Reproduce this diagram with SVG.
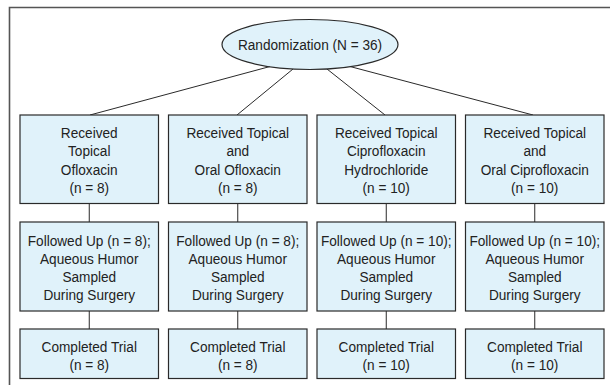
<svg xmlns="http://www.w3.org/2000/svg" width="610" height="385" viewBox="0 0 610 385">
<style>
.box{fill:#e0f2fa;stroke:#2a2a2a;stroke-width:1.2}
.t{font-family:"Liberation Sans",Arial,sans-serif;font-size:15.5px;fill:#222;text-anchor:middle}
.c{stroke:#2a2a2a;stroke-width:1;fill:none}
.frame{stroke:#555;stroke-width:1.6;fill:none}
</style>
<rect width="610" height="385" fill="#fff"/>
<path class="frame" d="M9.5,385 V7.5 H610"/>
<g id="connectors">
<line class="c" x1="270" y1="66.5" x2="90" y2="115"/>
<line class="c" x1="293" y1="69" x2="237" y2="115"/>
<line class="c" x1="327" y1="69" x2="385" y2="115"/>
<line class="c" x1="350" y1="66.5" x2="533" y2="115"/>
<line class="c" x1="89.25" y1="203.5" x2="89.25" y2="222"/>
<line class="c" x1="237.75" y1="203.5" x2="237.75" y2="222"/>
<line class="c" x1="386.25" y1="203.5" x2="386.25" y2="222"/>
<line class="c" x1="534.75" y1="203.5" x2="534.75" y2="222"/>
<line class="c" x1="89.25" y1="311" x2="89.25" y2="329"/>
<line class="c" x1="237.75" y1="311" x2="237.75" y2="329"/>
<line class="c" x1="386.25" y1="311" x2="386.25" y2="329"/>
<line class="c" x1="534.75" y1="311" x2="534.75" y2="329"/>
</g>
<g id="randomization">
<ellipse class="box" cx="310" cy="44.5" rx="88" ry="25"/>
<text class="t" transform="translate(310,0) scale(0.88,1)"><tspan x="0" y="50">Randomization (N = 36)</tspan></text>
</g>
<g id="arm1">
<rect class="box" x="20" y="115" width="138.5" height="88.5"/>
<text class="t" transform="translate(89.25,0) scale(0.88,1)"><tspan x="0" y="138.3">Received</tspan><tspan x="0" y="156.5">Topical</tspan><tspan x="0" y="174.7">Ofloxacin</tspan><tspan x="0" y="192.9">(n = 8)</tspan></text>
</g>
<g id="arm2">
<rect class="box" x="168.5" y="115" width="138.5" height="88.5"/>
<text class="t" transform="translate(237.75,0) scale(0.88,1)"><tspan x="0" y="138.3">Received Topical</tspan><tspan x="0" y="156.5">and</tspan><tspan x="0" y="174.7">Oral Ofloxacin</tspan><tspan x="0" y="192.9">(n = 8)</tspan></text>
</g>
<g id="arm3">
<rect class="box" x="317" y="115" width="138.5" height="88.5"/>
<text class="t" transform="translate(386.25,0) scale(0.88,1)"><tspan x="0" y="138.3">Received Topical</tspan><tspan x="0" y="156.5">Ciprofloxacin</tspan><tspan x="0" y="174.7">Hydrochloride</tspan><tspan x="0" y="192.9">(n = 10)</tspan></text>
</g>
<g id="arm4">
<rect class="box" x="465.5" y="115" width="138.5" height="88.5"/>
<text class="t" transform="translate(534.75,0) scale(0.88,1)"><tspan x="0" y="138.3">Received Topical</tspan><tspan x="0" y="156.5">and</tspan><tspan x="0" y="174.7">Oral Ciprofloxacin</tspan><tspan x="0" y="192.9">(n = 10)</tspan></text>
</g>
<g id="follow1">
<rect class="box" x="20" y="222" width="138.5" height="89"/>
<text class="t" transform="translate(89.25,0) scale(0.88,1)"><tspan x="0" y="246.5">Followed Up (n = 8);</tspan><tspan x="0" y="264.5">Aqueous Humor</tspan><tspan x="0" y="282.5">Sampled</tspan><tspan x="0" y="300.5">During Surgery</tspan></text>
</g>
<g id="follow2">
<rect class="box" x="168.5" y="222" width="138.5" height="89"/>
<text class="t" transform="translate(237.75,0) scale(0.88,1)"><tspan x="0" y="246.5">Followed Up (n = 8);</tspan><tspan x="0" y="264.5">Aqueous Humor</tspan><tspan x="0" y="282.5">Sampled</tspan><tspan x="0" y="300.5">During Surgery</tspan></text>
</g>
<g id="follow3">
<rect class="box" x="317" y="222" width="138.5" height="89"/>
<text class="t" transform="translate(386.25,0) scale(0.88,1)"><tspan x="0" y="246.5">Followed Up (n = 10);</tspan><tspan x="0" y="264.5">Aqueous Humor</tspan><tspan x="0" y="282.5">Sampled</tspan><tspan x="0" y="300.5">During Surgery</tspan></text>
</g>
<g id="follow4">
<rect class="box" x="465.5" y="222" width="138.5" height="89"/>
<text class="t" transform="translate(534.75,0) scale(0.88,1)"><tspan x="0" y="246.5">Followed Up (n = 10);</tspan><tspan x="0" y="264.5">Aqueous Humor</tspan><tspan x="0" y="282.5">Sampled</tspan><tspan x="0" y="300.5">During Surgery</tspan></text>
</g>
<g id="complete1">
<rect class="box" x="20" y="329" width="138.5" height="49.5"/>
<text class="t" transform="translate(89.25,0) scale(0.88,1)"><tspan x="0" y="352.3">Completed Trial</tspan><tspan x="0" y="370.5">(n = 8)</tspan></text>
</g>
<g id="complete2">
<rect class="box" x="168.5" y="329" width="138.5" height="49.5"/>
<text class="t" transform="translate(237.75,0) scale(0.88,1)"><tspan x="0" y="352.3">Completed Trial</tspan><tspan x="0" y="370.5">(n = 8)</tspan></text>
</g>
<g id="complete3">
<rect class="box" x="317" y="329" width="138.5" height="49.5"/>
<text class="t" transform="translate(386.25,0) scale(0.88,1)"><tspan x="0" y="352.3">Completed Trial</tspan><tspan x="0" y="370.5">(n = 10)</tspan></text>
</g>
<g id="complete4">
<rect class="box" x="465.5" y="329" width="138.5" height="49.5"/>
<text class="t" transform="translate(534.75,0) scale(0.88,1)"><tspan x="0" y="352.3">Completed Trial</tspan><tspan x="0" y="370.5">(n = 10)</tspan></text>
</g>
</svg>
